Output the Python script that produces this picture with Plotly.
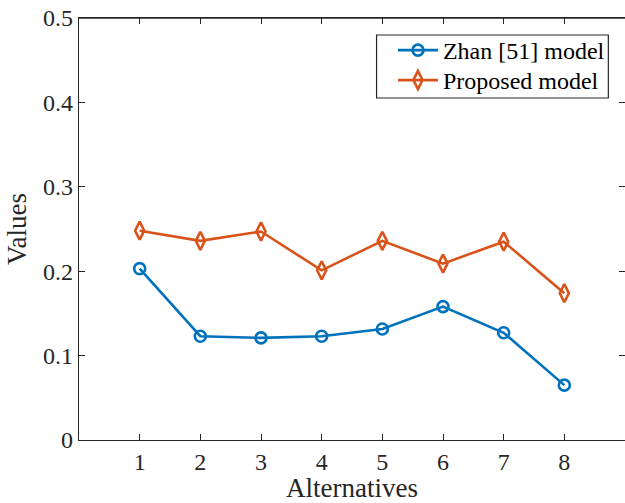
import plotly.graph_objects as go

alternatives = [1, 2, 3, 4, 5, 6, 7, 8]
zhan_values = [0.203, 0.123, 0.121, 0.123, 0.1315, 0.158, 0.127, 0.065]
proposed_values = [0.248, 0.236, 0.247, 0.201, 0.236, 0.209, 0.235, 0.174]
series_names = ["Zhan [51] model", "Proposed model"]
y_ticks = [0, 0.1, 0.2, 0.3, 0.4, 0.5]
y_tick_labels = ["0", "0.1", "0.2", "0.3", "0.4", "0.5"]

fig = go.Figure()
fig.add_trace(go.Scatter(
    x=alternatives, y=zhan_values, name=series_names[0], mode="lines+markers",
    legend="legend",
    line=dict(color="#0072BD", width=2.6),
    marker=dict(symbol="circle-open", size=11, line=dict(width=2.6, color="#0072BD")),
))
fig.add_trace(go.Scatter(
    x=alternatives, y=proposed_values, name=series_names[1], mode="lines+markers",
    legend="legend2",
    line=dict(color="#D95319", width=2.6),
    marker=dict(symbol="diamond-tall-open", size=13, line=dict(width=2.6, color="#D95319")),
))

font = "Liberation Serif, Times New Roman, serif"
axis_common = dict(
    showline=True, linecolor="#262626", linewidth=1.3, mirror="ticks",
    ticks="inside", ticklen=6, tickcolor="#262626", tickwidth=1,
    showgrid=False, zeroline=False,
    tickfont=dict(family=font, size=24, color="#262626"),
)
legend_common = dict(xanchor="left", yanchor="top", bgcolor="rgba(0,0,0,0)", borderwidth=0,
                     font=dict(family=font, size=24, color="#000000"), itemwidth=40)
fig.update_layout(
    width=625, height=503,
    margin=dict(l=79, r=0, t=18, b=63),
    paper_bgcolor="white", plot_bgcolor="white",
    font=dict(family=font, size=24, color="#262626"),
    xaxis=dict(range=[0, 9], tickvals=alternatives, ticktext=[str(a) for a in alternatives],
               title=dict(text="Alternatives", font=dict(family=font, size=27, color="#262626"), standoff=8),
               **axis_common),
    yaxis=dict(range=[0, 0.5], tickvals=y_ticks, ticktext=y_tick_labels,
               title=dict(text="Values", font=dict(family=font, size=27, color="#262626"), standoff=8),
               **axis_common),
    legend=dict(x=0.575, y=0.9763, **legend_common),
    legend2=dict(x=0.575, y=0.9052, **legend_common),
    showlegend=True,
    shapes=[
        dict(type="rect", xref="paper", yref="paper",
             x0=0.545, x1=0.9695, y0=0.8104, y1=0.9597,
             fillcolor="white", line=dict(color="#262626", width=1.2), layer="above"),
        dict(type="line", xref="paper", yref="paper", x0=0, x1=1, y0=1, y1=1,
             line=dict(color="#262626", width=1.3), layer="above"),
    ],
)
fig.write_html("out.html", post_script="document.body.style.margin='0px';",
               config={"displayModeBar": False})
